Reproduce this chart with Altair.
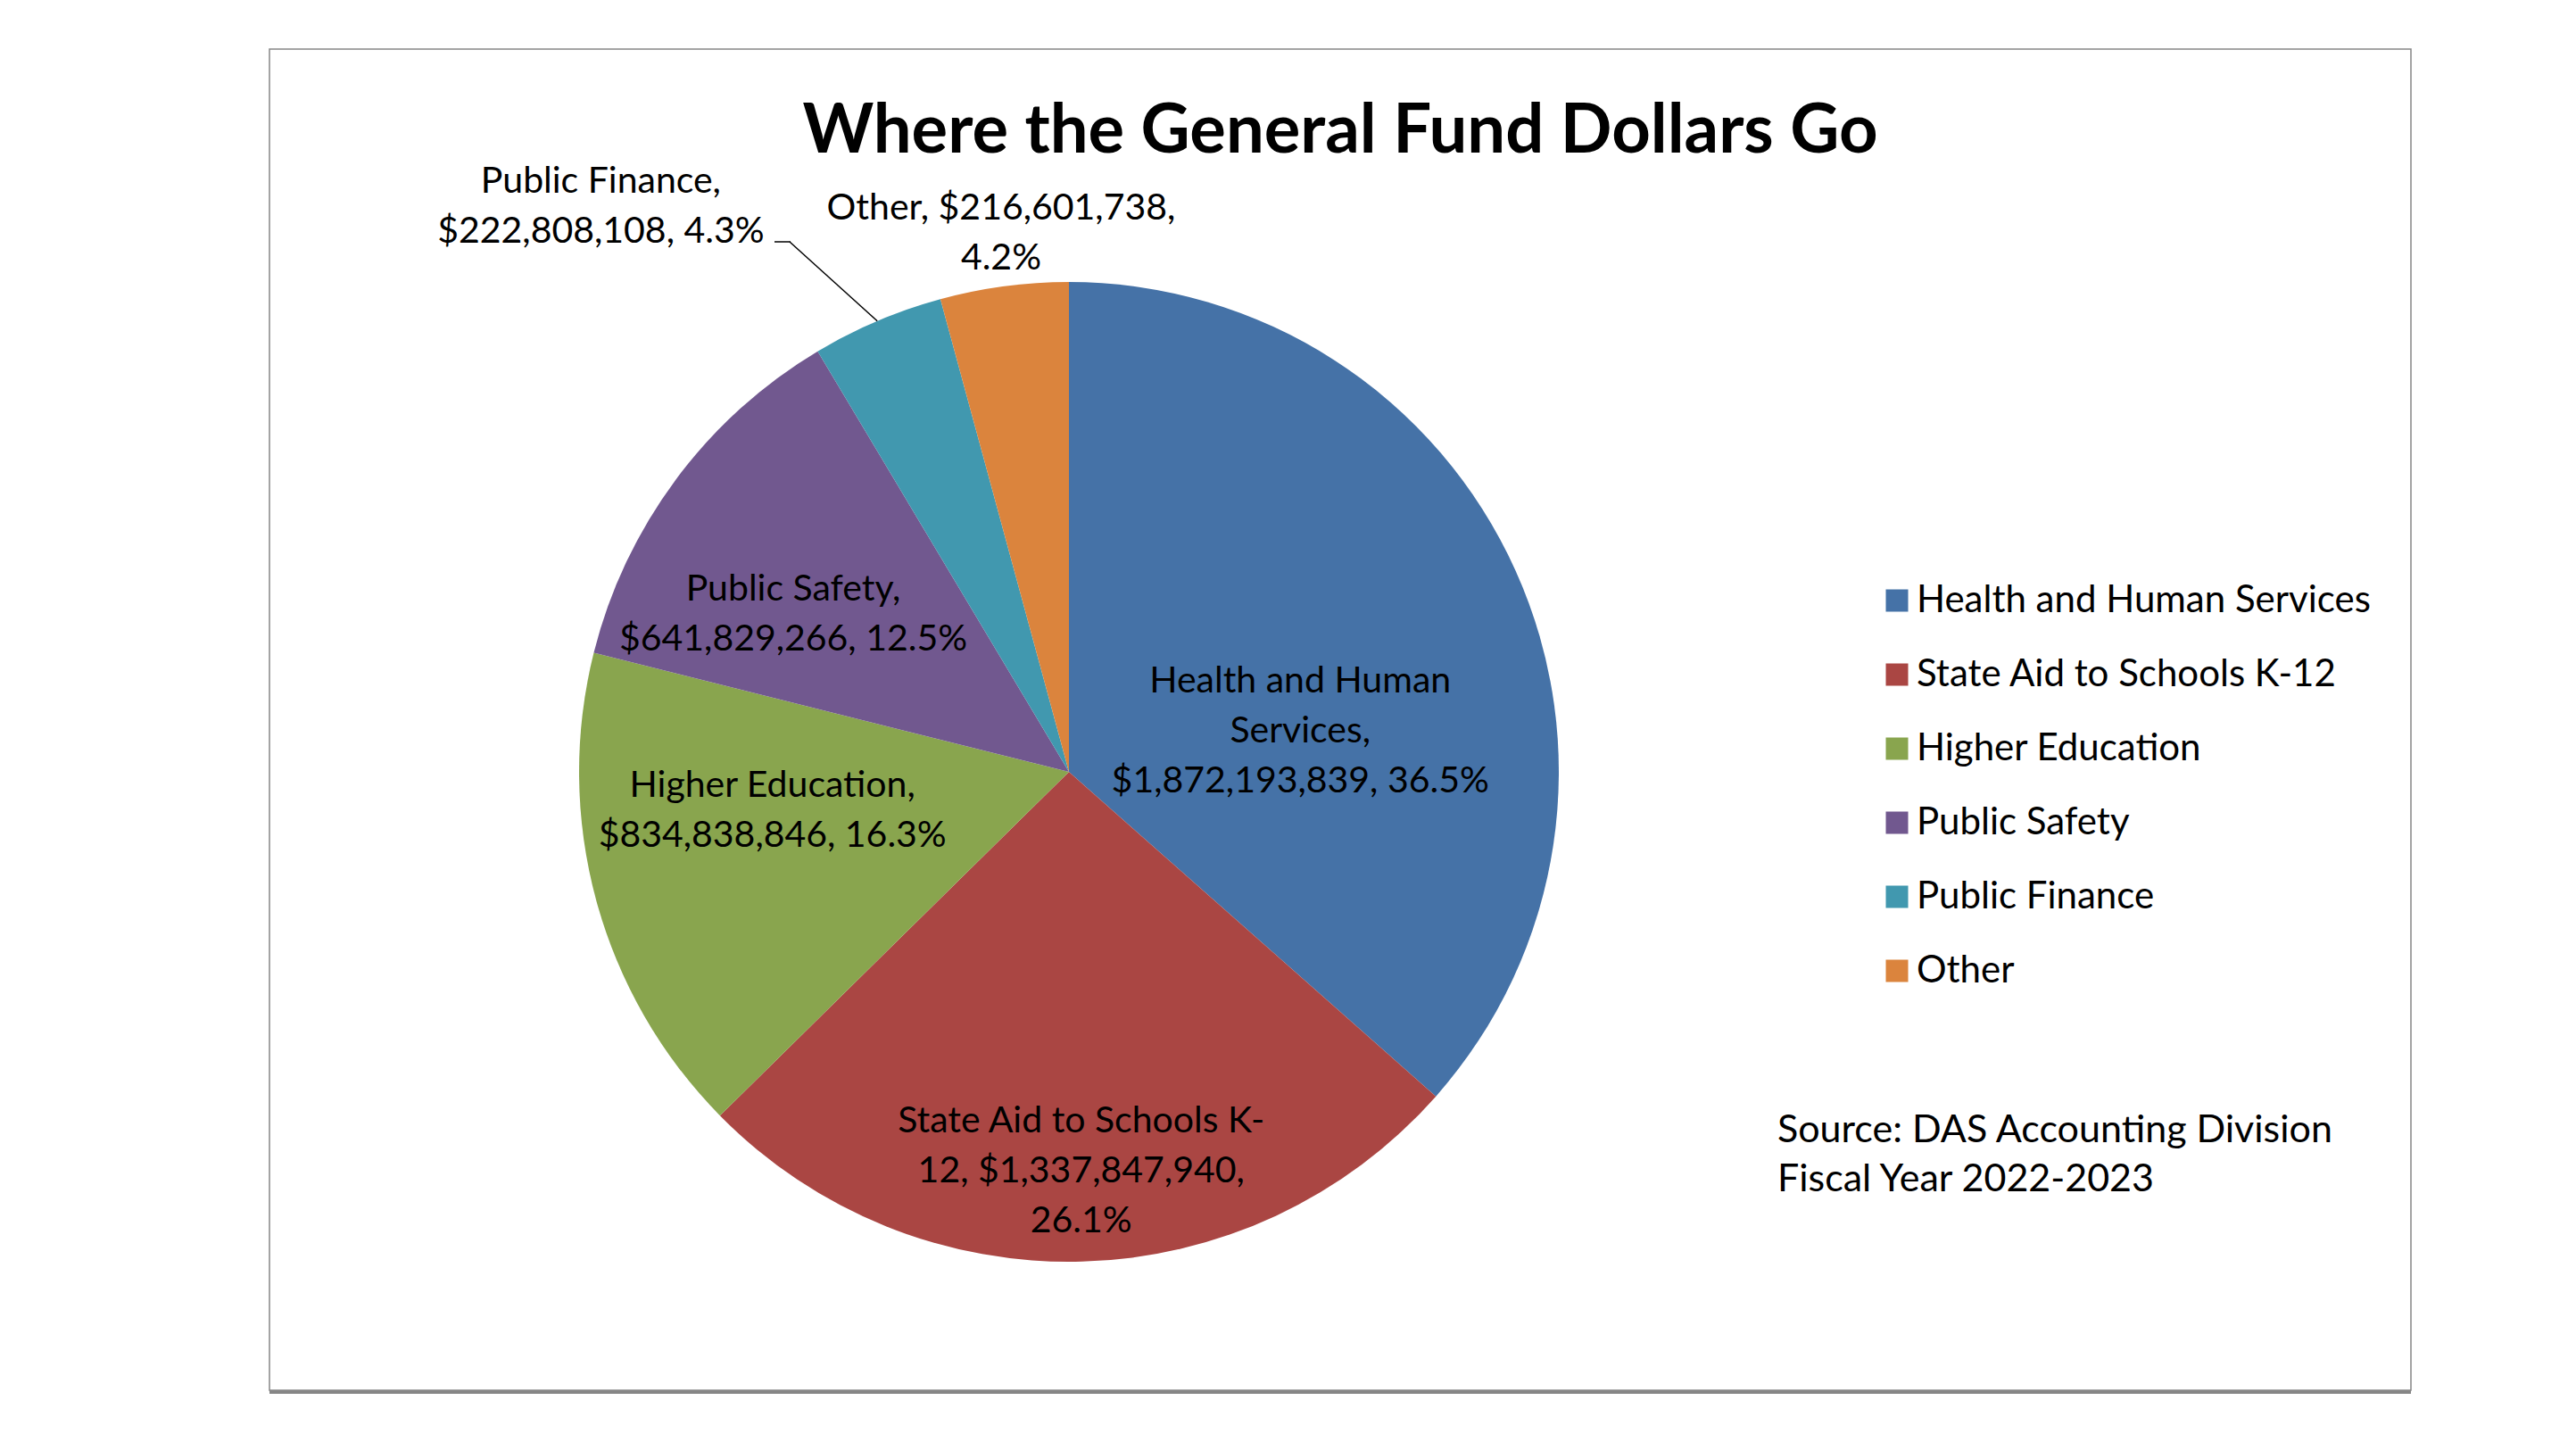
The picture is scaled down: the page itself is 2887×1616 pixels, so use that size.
import altair as alt
import pandas as pd

# ---------------- data ----------------
categories = [
    "Health and Human Services",
    "State Aid to Schools K-12",
    "Higher Education",
    "Public Safety",
    "Public Finance",
    "Other",
]
amounts = [1872193839, 1337847940, 834838846, 641829266, 222808108, 216601738]
labels = [
    "Health and Human\nServices,\n$1,872,193,839, 36.5%",
    "State Aid to Schools K-\n12, $1,337,847,940,\n26.1%",
    "Higher Education,\n$834,838,846, 16.3%",
    "Public Safety,\n$641,829,266, 12.5%",
    "Public Finance,\n$222,808,108, 4.3%",
    "Other, $216,601,738,\n4.2%",
]
colors = ["#4572A7", "#AA4643", "#89A54E", "#71588F", "#4198AF", "#DB843D"]
title_text = "Where the General Fund Dollars Go"
source_lines = ["Source: DAS Accounting Division", "Fiscal Year 2022-2023"]

df = pd.DataFrame({
    "category": categories,
    "amount": amounts,
    "order": list(range(len(categories))),
    "label": labels,
})

# ---------------- layout (styles / positions) ----------------
W, H = 2400, 1503
CX, CY = 896, 810          # pie centre within plot
RAD = 549
FONT = "Lato"
LBL_SIZE = 41
LINE_H = 56

# per-label placement: radius along mid-angle + fine offsets
label_place = {
    "Health and Human Services": (360, -69, 47),
    "State Aid to Schools K-12": (360, 4, 32),
    "Higher Education": (360, 15, -79),
    "Public Safety": (360, -20, 11),
    "Public Finance": (620, -282, -90),
    "Other": (620, 6, -16),
}

base = alt.Chart(df)

pie = base.mark_arc(outerRadius=RAD).encode(
    theta=alt.Theta("amount:Q", stack=True),
    color=alt.Color(
        "category:N",
        scale=alt.Scale(domain=categories, range=colors),
        sort=categories,
        legend=alt.Legend(
            orient="none",
            legendX=1803,
            legendY=597,
            title=None,
            symbolType="square",
            symbolSize=625,
            symbolOpacity=1,
            labelFont=FONT,
            labelFontSize=42,
            labelColor="black",
            labelOffset=1,
            labelLimit=1000,
            rowPadding=41,
            padding=0,
        ),
    ),
    order=alt.Order("order:Q"),
    x=alt.value(CX),
    y=alt.value(CY),
)

layers = [pie]
for cat in categories:
    r, dx, dy = label_place[cat]
    layers.append(
        base.mark_text(
            radius=r, dx=dx, dy=dy, lineBreak="\n", lineHeight=LINE_H,
            font=FONT, fontSize=LBL_SIZE, color="black",
            align="center", baseline="middle",
        ).encode(
            theta=alt.Theta("amount:Q", stack=True),
            order=alt.Order("order:Q"),
            detail="category:N",
            text=alt.condition(alt.datum.category == cat, alt.Text("label:N"), alt.value("")),
            x=alt.value(CX),
            y=alt.value(CY),
        )
    )

# leader line for Public Finance (edge point computed from the data)
leader = base.transform_joinaggregate(
    total="sum(amount)"
).transform_window(
    cum="sum(amount)", sort=[alt.SortField("order", order="ascending")], frame=[None, 0]
).transform_calculate(
    mid="(datum.cum - datum.amount/2) / datum.total * 2 * PI",
    ex=f"{CX} + {RAD} * sin(datum.mid)",
    ey=f"{CY} - {RAD} * cos(datum.mid)",
).transform_filter(
    alt.datum.category == "Public Finance"
).mark_rule(color="black", strokeWidth=1.5).encode(
    x=alt.X("ex:Q", scale=None, axis=None),
    y=alt.Y("ey:Q", scale=None, axis=None),
    x2=alt.value(583),
    y2=alt.value(216),
)
leader_h = alt.Chart(df.head(1)).mark_rule(color="black", strokeWidth=1.5).encode(
    x=alt.value(566), x2=alt.value(584), y=alt.value(216)
)
layers += [leader, leader_h]

title = alt.Chart(pd.DataFrame({"t": [title_text]})).mark_text(
    font=FONT, fontSize=76, fontWeight="bold", color="black",
    align="center", baseline="alphabetic",
).encode(x=alt.value(W / 2), y=alt.value(116), text="t:N")

source = alt.Chart(pd.DataFrame({"t": ["\n".join(source_lines)]})).mark_text(
    font=FONT, fontSize=43, color="black", align="left", baseline="alphabetic",
    lineBreak="\n", lineHeight=55,
).encode(x=alt.value(1690), y=alt.value(1225), text="t:N")

shadow = alt.Chart(df.head(1)).mark_rule(color="#868686", strokeWidth=4).encode(
    x=alt.value(0), x2=alt.value(W), y=alt.value(H + 2)
)

layers += [title, source, shadow]

chart = alt.layer(*layers).properties(
    width=W,
    height=H,
    autosize=alt.AutoSizeParams(type="none"),
    padding={"left": 294, "top": 47, "right": 10, "bottom": 12},
    background="white",
).configure_view(
    stroke="#868686", strokeWidth=1.5
)

chart.save("out.html", embed_options={"renderer": "svg", "actions": False})
